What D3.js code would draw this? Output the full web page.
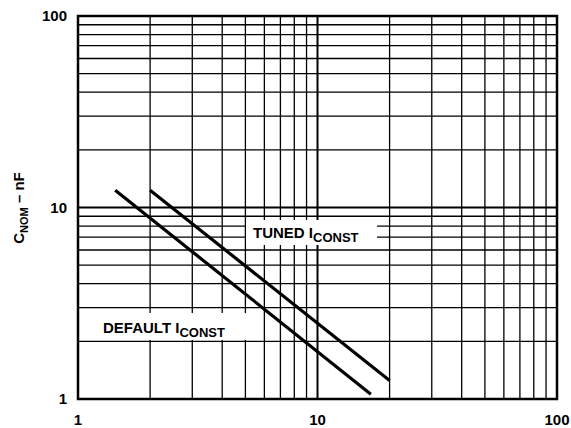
<!DOCTYPE html>
<html>
<head>
<meta charset="utf-8">
<script src="https://cdn.jsdelivr.net/npm/d3@7"></script>
<style>
  body { margin: 0; background: #fff; }
  svg { display: block; font-family: "Liberation Sans", Arial, sans-serif; font-weight: bold; }
</style>
</head>
<body>
<div id="chart"></div>
<script>
"use strict";

// tick labels
const xTickValues = [1, 10, 100];
const yTickValues = [1, 10, 100];
const xTickLabels = ["1", "10", "100"];
const yTickLabels = ["1", "10", "100"];

// curves (C = k / x)
const defaultX = [1.43, 16.7];
const defaultY = [12.3, 1.06];
const tunedX = [2.0, 20.0];
const tunedY = [12.3, 1.25];

const width = 571;
const height = 428;
const plotLeft = 78, plotRight = 557, plotTop = 16, plotBottom = 399;

const svg = d3.select("#chart")
  .append("svg")
  .attr("width", width)
  .attr("height", height);

const xScale = d3.scaleLog().domain([1, 100]).range([plotLeft, plotRight]);
const yScale = d3.scaleLog().domain([1, 100]).range([plotBottom, plotTop]);

// grid values 1..9, 10..90, 100
const gridVals = [];
for (const dec of [1, 10]) {
  for (let m = 1; m < 10; m++) gridVals.push(dec * m);
}
gridVals.push(100);
const isMajor = v => v === 1 || v === 10 || v === 100;

const grid = svg.append("g");
grid.selectAll("line.v")
  .data(gridVals)
  .enter()
  .append("line")
  .attr("x1", d => xScale(d))
  .attr("x2", d => xScale(d))
  .attr("y1", plotTop)
  .attr("y2", plotBottom)
  .attr("stroke", "#000")
  .attr("stroke-width", d => isMajor(d) ? 2 : 1.3);

grid.selectAll("line.h")
  .data(gridVals)
  .enter()
  .append("line")
  .attr("x1", plotLeft)
  .attr("x2", plotRight)
  .attr("y1", d => yScale(d))
  .attr("y2", d => yScale(d))
  .attr("stroke", "#000")
  .attr("stroke-width", d => isMajor(d) ? 2 : 1.3);

// frame
svg.append("rect")
  .attr("x", plotLeft)
  .attr("y", plotTop)
  .attr("width", plotRight - plotLeft)
  .attr("height", plotBottom - plotTop)
  .attr("fill", "none")
  .attr("stroke", "#000")
  .attr("stroke-width", 2.5);

// white label boxes
svg.append("rect").attr("x", 246).attr("y", 220).attr("width", 131).attr("height", 25).attr("fill", "#fff");
svg.append("rect").attr("x", 98).attr("y", 313).attr("width", 152).attr("height", 27).attr("fill", "#fff");

// curves
const line = d3.line()
  .x(d => xScale(d[0]))
  .y(d => yScale(d[1]));

svg.append("path")
  .datum(d3.zip(defaultX, defaultY))
  .attr("d", line)
  .attr("fill", "none")
  .attr("stroke", "#000")
  .attr("stroke-width", 3.2);

svg.append("path")
  .datum(d3.zip(tunedX, tunedY))
  .attr("d", line)
  .attr("fill", "none")
  .attr("stroke", "#000")
  .attr("stroke-width", 3.2);

// curve labels
const tuned = svg.append("text").attr("x", 253).attr("y", 238).attr("font-size", 15);
tuned.append("tspan").text("TUNED I");
tuned.append("tspan").attr("dy", 4).attr("font-size", 13).text("CONST");

const def = svg.append("text").attr("x", 103).attr("y", 332.5).attr("font-size", 15);
def.append("tspan").text("DEFAULT I");
def.append("tspan").attr("dy", 4).attr("font-size", 13).text("CONST");

// tick labels
svg.selectAll("text.xt")
  .data(xTickValues)
  .enter()
  .append("text")
  .attr("x", d => xScale(d))
  .attr("y", 425)
  .attr("text-anchor", "middle")
  .attr("font-size", 15)
  .text((d, i) => xTickLabels[i]);

svg.selectAll("text.yt")
  .data(yTickValues)
  .enter()
  .append("text")
  .attr("x", 67)
  .attr("y", d => yScale(d) + 5)
  .attr("text-anchor", "end")
  .attr("font-size", 15)
  .text((d, i) => yTickLabels[i]);

// axis title
const title = svg.append("text")
  .attr("transform", "translate(24,208) rotate(-90)")
  .attr("text-anchor", "middle")
  .attr("font-size", 15);
title.append("tspan").text("C");
title.append("tspan").attr("dy", 4).attr("font-size", 11).text("NOM");
title.append("tspan").attr("dy", -4).text(" \u2013 nF");
</script>
</body>
</html>
